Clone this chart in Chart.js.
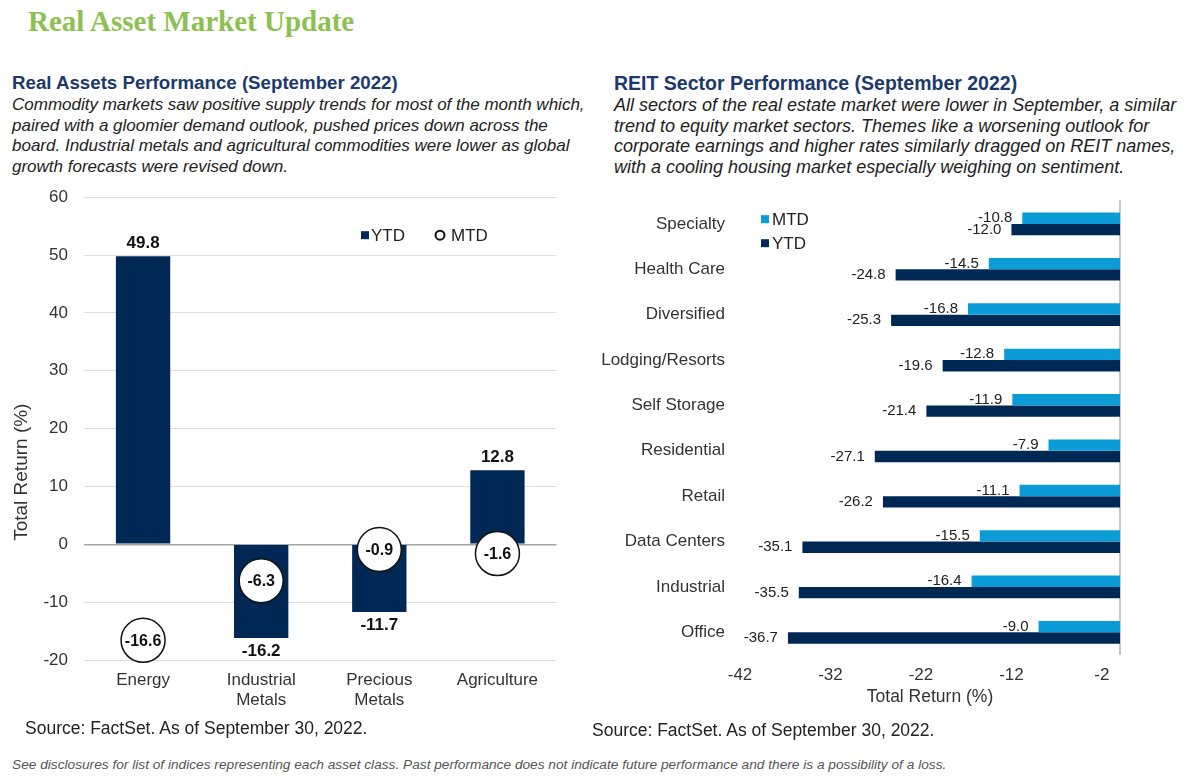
<!DOCTYPE html>
<html>
<head>
<meta charset="utf-8">
<script src="https://cdn.jsdelivr.net/npm/chart.js@4/dist/chart.umd.min.js"></script>
<style>
  body { margin: 0; background: #fff; font-family: 'Liberation Sans', Arial, sans-serif; color: #222; }
  #page { position: relative; width: 1200px; height: 783px; overflow: hidden; }
  .main-title { position: absolute; left: 28px; top: 5px; font-family: 'Liberation Serif', 'Times New Roman', serif; font-weight: bold; font-size: 29px; color: #8cc152; }
  .sub { position: absolute; font-weight: bold; color: #1b3a6b; white-space: nowrap; }
  .para { position: absolute; font-style: italic; line-height: 20.7px; white-space: nowrap; color: #222; }
  .source { position: absolute; font-size: 17.5px; color: #222; white-space: nowrap; }
  .foot { position: absolute; left: 12px; top: 757px; font-size: 13.7px; font-style: italic; color: #555; white-space: nowrap; }
  canvas { position: absolute; }
</style>
</head>
<body>
<div id="page">
  <div class="main-title">Real Asset Market Update</div>

  <div class="sub" style="left:12px; top:72px; font-size:18.7px;">Real Assets Performance (September 2022)</div>
  <div class="para" style="left:12px; top:95px; font-size:17px;">Commodity markets saw positive supply trends for most of the month which,<br>paired with a gloomier demand outlook, pushed prices down across the<br>board. Industrial metals and agricultural commodities were lower as global<br>growth forecasts were revised down.</div>

  <div class="sub" style="left:614px; top:72px; font-size:19.5px;">REIT Sector Performance (September 2022)</div>
  <div class="para" style="left:614px; top:95px; font-size:18px;">All sectors of the real estate market were lower in September, a similar<br>trend to equity market sectors. Themes like a worsening outlook for<br>corporate earnings and higher rates similarly dragged on REIT names,<br>with a cooling housing market especially weighing on sentiment.</div>

  <canvas id="assetChart" width="580" height="549" style="left:0; top:171px;"></canvas>
  <canvas id="reitChart" width="560" height="544" style="left:600px; top:176px;"></canvas>

  <div class="source" style="left:25px; top:718px;">Source: FactSet. As of September 30, 2022.</div>
  <div class="source" style="left:592px; top:720px;">Source: FactSet. As of September 30, 2022.</div>
  <div class="foot">See disclosures for list of indices representing each asset class. Past performance does not indicate future performance and there is a possibility of a loss.</div>
</div>

<script>
// Real assets (left chart)
const assetCategories = ['Energy', 'Industrial Metals', 'Precious Metals', 'Agriculture'];
const assetYTD = [49.8, -16.2, -11.7, 12.8];
const assetMTD = [-16.6, -6.3, -0.9, -1.6];
const assetTicks = [-20, -10, 0, 10, 20, 30, 40, 50, 60];

// REIT sectors (right chart)
const reitCategories = ['Specialty', 'Health Care', 'Diversified', 'Lodging/Resorts', 'Self Storage',
    'Residential', 'Retail', 'Data Centers', 'Industrial', 'Office'];
const reitMTD = [-10.8, -14.5, -16.8, -12.8, -11.9, -7.9, -11.1, -15.5, -16.4, -9.0];
const reitYTD = [-12.0, -24.8, -25.3, -19.6, -21.4, -27.1, -26.2, -35.1, -35.5, -36.7];
const reitTicks = [-42, -32, -22, -12, -2];

const NAVY = '#002855';
const LIGHT_BLUE = '#0b9bd7';
const FONT = "'Liberation Sans', Arial, sans-serif";

Chart.defaults.font.family = FONT;
Chart.defaults.color = '#333';
Chart.defaults.animation = false;

function createAssetChart() {
    const ctx = document.getElementById('assetChart');

    const labelPlugin = {
        id: 'assetLabels',
        afterDatasetsDraw(chart) {
            const c = chart.ctx;
            const a = chart.chartArea;
            c.save();
            c.textAlign = 'center';
            c.textBaseline = 'middle';
            c.fillStyle = '#111';
            c.font = 'bold 17px ' + FONT;
            chart.getDatasetMeta(1).data.forEach(function(bar, i) {
                const v = chart.data.datasets[1].data[i];
                c.fillText(v.toFixed(1), bar.x, v >= 0 ? bar.y - 13 : bar.y + 13);
            });
            c.font = 'bold 16px ' + FONT;
            chart.getDatasetMeta(0).data.forEach(function(pt, i) {
                const v = chart.data.datasets[0].data[i];
                c.fillText(v.toFixed(1), pt.x, pt.y + 1);
            });

            // legend
            const lx = a.left + 281, ly = a.top + 38;
            c.font = '17px ' + FONT;
            c.textAlign = 'left';
            c.fillStyle = NAVY;
            c.fillRect(lx - 4, ly - 4, 8, 8);
            c.fillStyle = '#222';
            c.fillText('YTD', lx + 6, ly + 1);
            c.beginPath();
            c.arc(lx + 75, ly, 4.5, 0, Math.PI * 2);
            c.lineWidth = 2;
            c.strokeStyle = '#111';
            c.stroke();
            c.fillText('MTD', lx + 86, ly + 1);

            // axis title
            c.save();
            c.translate(22, a.top + 275);
            c.rotate(-Math.PI / 2);
            c.textAlign = 'center';
            c.fillStyle = '#333';
            c.font = '19px ' + FONT;
            c.fillText('Total Return (%)', 0, 0);
            c.restore();
            c.restore();
        }
    };

    new Chart(ctx, {
        type: 'bar',
        data: {
            labels: assetCategories.map(function(s) { return s.split(' '); }),
            datasets: [
                {
                    type: 'line',
                    label: 'MTD',
                    data: assetMTD,
                    showLine: false,
                    pointRadius: 22,
                    pointHoverRadius: 22,
                    pointBackgroundColor: '#fff',
                    pointBorderColor: '#111',
                    pointBorderWidth: 1.5,
                    clip: false,
                    order: 1
                },
                {
                    label: 'YTD',
                    data: assetYTD,
                    backgroundColor: NAVY,
                    categoryPercentage: 1,
                    barPercentage: 0.46,
                    order: 2
                }
            ]
        },
        options: {
            responsive: false,
            devicePixelRatio: 1,
            layout: { padding: { left: 0, top: 16, right: 18, bottom: 0 } },
            plugins: { legend: { display: false }, tooltip: { enabled: false } },
            scales: {
                x: {
                    grid: { display: false, drawTicks: false },
                    border: { display: false },
                    ticks: { padding: 10, font: { size: 17, lineHeight: 1.176 }, color: '#333' },
                    afterFit: function(scale) { scale.height = 60; }
                },
                y: {
                    min: -20,
                    max: 60,
                    afterBuildTicks: function(scale) {
                        scale.ticks = assetTicks.map(function(v) { return { value: v }; });
                    },
                    grid: {
                        drawTicks: false,
                        color: function(c) { return c.tick && c.tick.value === 0 ? '#a6a6a6' : '#dedede'; },
                        lineWidth: function(c) { return c.tick && c.tick.value === 0 ? 1.5 : 1; }
                    },
                    border: { display: false },
                    ticks: { padding: 16, font: { size: 17 }, color: '#333' },
                    afterFit: function(scale) { scale.width = 84; }
                }
            }
        },
        plugins: [labelPlugin]
    });
}

function createReitChart() {
    const ctx = document.getElementById('reitChart');

    const reitPlugin = {
        id: 'reitLabels',
        beforeDatasetsDraw(chart) {
            const c = chart.ctx;
            const a = chart.chartArea;
            const x0 = chart.scales.x.getPixelForValue(0);
            c.save();
            c.strokeStyle = '#b3b3b3';
            c.lineWidth = 1.5;
            c.beginPath();
            c.moveTo(x0, a.top - 1);
            c.lineTo(x0, a.bottom);
            c.stroke();
            c.restore();
        },
        afterDatasetsDraw(chart) {
            const c = chart.ctx;
            c.save();
            c.textAlign = 'right';
            c.textBaseline = 'middle';
            c.fillStyle = '#222';
            c.font = '15px ' + FONT;
            chart.data.datasets.forEach(function(ds, d) {
                chart.getDatasetMeta(d).data.forEach(function(bar, i) {
                    c.fillText(ds.data[i].toFixed(1), bar.x - 10, bar.y);
                });
            });

            // legend
            const a = chart.chartArea;
            const lx = a.left + 25;
            c.font = '17px ' + FONT;
            c.textAlign = 'left';
            chart.data.datasets.forEach(function(ds, d) {
                const ly = a.top + 18 + d * 24;
                c.fillStyle = ds.backgroundColor;
                c.fillRect(lx - 4, ly - 4, 8, 8);
                c.fillStyle = '#222';
                c.fillText(ds.label, lx + 7, ly + 1);
            });
            c.restore();
        }
    };

    new Chart(ctx, {
        type: 'bar',
        data: {
            labels: reitCategories,
            datasets: [
                {
                    label: 'MTD',
                    data: reitMTD,
                    backgroundColor: LIGHT_BLUE,
                    categoryPercentage: 0.5,
                    barPercentage: 1
                },
                {
                    label: 'YTD',
                    data: reitYTD,
                    backgroundColor: NAVY,
                    categoryPercentage: 0.5,
                    barPercentage: 1
                }
            ]
        },
        options: {
            indexAxis: 'y',
            responsive: false,
            devicePixelRatio: 1,
            layout: { padding: { left: 0, top: 9, right: 40, bottom: 0 } },
            plugins: { legend: { display: false }, tooltip: { enabled: false } },
            scales: {
                x: {
                    min: -42,
                    max: 0,
                    afterBuildTicks: function(scale) {
                        scale.ticks = reitTicks.map(function(v) { return { value: v }; });
                    },
                    grid: { display: false, drawTicks: false },
                    border: { display: false },
                    ticks: { padding: 10, font: { size: 17 }, color: '#333' },
                    title: {
                        display: true,
                        text: 'Total Return (%)',
                        font: { size: 17.5 },
                        color: '#333',
                        padding: { top: 0, bottom: 12.5 }
                    },
                    afterFit: function(scale) { scale.height = 65; }
                },
                y: {
                    grid: { display: false, drawTicks: false },
                    border: { display: false },
                    ticks: { padding: 15, font: { size: 17 }, color: '#333' },
                    afterFit: function(scale) { scale.width = 140; }
                }
            }
        },
        plugins: [reitPlugin]
    });
}

createAssetChart();
createReitChart();
</script>
</body>
</html>
